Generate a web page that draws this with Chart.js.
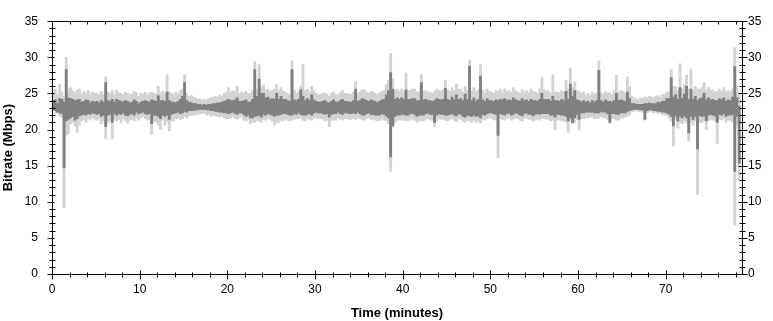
<!DOCTYPE html>
<html>
<head>
<meta charset="utf-8">
<script src="https://cdn.jsdelivr.net/npm/chart.js@4.4.1/dist/chart.umd.min.js"></script>
<style>
  html, body { margin: 0; padding: 0; background: #fff; }
</style>
</head>
<body>
<canvas id="bitrate" width="773" height="321"></canvas>
<script>
// each bin covers a quarter of a minute
const STEP = 0.25

// light trace (instantaneous bitrate), min / max per bin, Mbps
const lightHigh = [
  25.0,25.6,24.8,26.3,25.2,24.6,30.0,25.6,25.8,25.4,25.2,25.5,25.6,24.9,25.3,25.0,25.4,24.8,25.2,25.0,
  25.1,24.8,25.3,24.9,27.3,25.2,25.0,25.4,24.8,25.4,25.1,25.0,24.8,25.2,25.0,24.8,24.9,25.3,25.1,24.6,
  25.0,24.9,25.2,24.8,25.1,25.2,25.0,24.9,26.0,25.1,25.3,24.9,27.6,25.2,25.0,24.8,25.2,24.9,25.4,25.6,
  27.6,25.0,24.6,24.7,24.5,24.4,24.2,24.3,24.0,24.2,24.1,24.3,24.4,24.5,24.6,24.5,24.8,24.6,25.0,25.2,
  25.8,25.2,25.4,25.2,26.0,25.0,25.2,25.0,25.3,24.9,25.0,25.4,29.4,25.6,29.0,26.0,26.2,25.5,25.6,25.3,
  25.4,25.6,26.3,25.4,25.8,25.3,25.2,25.0,24.8,29.5,25.4,25.0,25.3,26.0,29.0,25.4,25.6,25.2,26.0,25.4,
  25.0,24.8,24.8,25.0,25.1,24.9,24.6,25.0,25.2,24.8,24.8,25.1,25.4,25.0,25.0,24.9,24.9,25.2,26.6,25.0,
  25.2,25.5,25.5,25.2,25.0,25.3,25.2,25.0,24.8,25.1,25.3,25.4,26.2,26.8,30.5,27.0,25.4,25.6,25.4,25.6,
  25.3,27.8,25.4,25.4,25.6,25.6,25.2,25.2,27.6,25.3,25.4,25.2,25.2,25.0,25.3,25.6,25.4,25.3,25.5,26.8,
  25.5,25.3,25.8,25.4,26.3,25.6,25.6,25.2,26.0,25.5,29.6,25.3,25.8,25.2,25.5,29.0,25.4,25.1,25.6,25.3,
  25.2,25.0,25.4,25.3,25.6,25.2,25.6,25.3,25.4,25.2,25.8,25.4,25.2,25.0,25.5,25.2,25.4,25.1,25.6,25.3,
  25.2,25.0,25.6,27.2,25.5,25.3,25.4,25.0,27.6,25.2,25.2,25.1,25.4,25.2,26.8,25.6,28.5,25.8,26.6,25.4,
  25.3,25.0,25.2,24.8,25.0,24.7,25.2,24.9,25.0,29.5,25.1,24.9,25.3,25.0,25.1,24.8,25.4,27.5,25.2,25.4,
  25.3,25.0,27.3,26.0,24.6,24.4,24.3,24.2,24.4,24.3,24.5,24.4,24.6,24.5,24.4,24.6,24.7,24.5,24.8,24.9,
  25.2,25.2,28.3,26.0,26.0,25.4,29.1,25.6,26.2,27.5,25.6,28.4,25.4,26.0,25.6,25.6,25.8,26.5,25.4,25.8,
  25.4,25.5,25.2,25.3,25.6,25.3,25.8,25.2,25.4,25.2,25.6,31.3,26.0,25.0
]
const lightLow = [
  22.6,22.2,22.4,21.9,21.6,9.2,19.2,19.4,20.8,21.0,20.5,19.6,20.6,21.2,21.4,21.0,21.5,21.3,21.6,21.4,
  21.3,21.5,20.8,21.2,18.7,21.0,21.2,18.7,21.4,21.2,21.4,21.0,21.5,21.2,20.9,21.3,21.4,21.2,21.6,21.3,
  21.6,21.8,21.5,21.3,21.4,19.3,21.2,21.0,20.6,20.0,21.3,20.6,21.1,19.8,21.2,21.2,21.5,21.6,21.4,21.5,
  21.8,21.6,21.9,22.0,22.0,22.1,22.1,22.2,22.2,22.3,22.0,22.1,21.8,22.0,21.9,21.8,21.7,21.8,21.6,21.5,
  21.5,21.6,21.8,21.5,21.4,21.6,21.8,21.3,21.2,21.4,20.8,21.0,21.0,21.2,21.2,21.0,21.4,21.3,21.5,21.4,
  21.2,20.6,21.0,21.0,21.3,21.2,21.4,21.3,21.2,21.4,21.4,21.5,21.5,21.6,21.3,21.2,21.5,21.4,21.3,21.6,
  21.6,21.5,21.5,21.4,21.2,21.3,20.4,21.2,21.4,21.3,21.6,21.4,21.3,21.5,21.5,21.4,21.4,21.5,21.4,21.6,
  21.5,21.3,21.3,21.5,21.6,21.4,21.4,21.3,21.2,21.2,21.4,21.3,21.2,20.8,14.2,20.3,21.0,21.2,21.4,21.3,
  21.3,21.2,21.2,21.4,21.4,21.3,21.0,21.2,21.2,21.2,21.4,21.5,21.3,21.3,20.4,21.2,21.5,21.4,21.4,21.3,
  21.2,21.4,21.5,21.3,21.1,21.5,21.4,21.2,21.0,21.3,21.2,21.0,21.3,21.0,21.2,20.9,21.4,21.3,21.5,21.6,
  21.6,21.4,21.3,16.1,21.5,21.4,21.3,21.5,21.6,21.3,21.4,21.6,21.5,21.3,21.2,21.5,21.6,21.4,21.4,21.2,
  21.3,21.4,21.3,21.5,21.5,21.4,21.4,21.2,21.3,20.0,21.3,21.3,21.2,21.2,21.0,19.6,21.2,20.8,21.0,21.4,
  19.9,21.5,21.5,21.6,21.6,21.7,21.7,21.5,21.5,21.6,21.8,21.6,21.6,21.4,20.9,21.5,21.5,21.3,21.3,21.6,
  21.6,21.7,21.8,22.0,22.4,22.5,22.6,22.5,22.5,22.4,21.3,22.3,22.4,22.5,22.3,22.4,22.2,22.3,22.1,22.0,
  22.0,21.6,21.2,17.7,21.4,20.2,21.0,20.8,21.2,20.9,18.4,21.0,20.6,21.2,11.0,21.0,21.0,21.2,20.0,21.2,
  21.4,21.3,21.2,18.1,21.4,21.3,21.5,21.0,21.3,21.2,21.0,6.8,20.6,13.0
]

// dark trace (averaged bitrate), min / max per bin, Mbps
const darkHigh = [
  24.0,24.1,23.6,24.3,24.2,23.8,28.3,24.4,24.3,24.2,24.0,24.1,24.2,23.8,23.9,24.1,24.0,23.7,23.9,23.8,
  23.9,23.7,24.0,23.8,26.5,24.0,23.9,24.2,23.8,24.2,24.0,23.9,23.8,24.0,23.9,23.7,23.8,24.1,23.9,23.6,
  23.8,23.9,24.0,23.9,23.8,24.1,24.0,23.9,24.7,24.0,24.0,23.9,25.2,24.0,23.8,23.8,23.7,23.9,24.2,24.6,
  26.5,24.0,23.8,23.7,23.6,23.6,23.5,23.5,23.4,23.5,23.4,23.5,23.5,23.6,23.6,23.7,23.7,23.8,23.9,24.0,
  24.2,24.0,24.0,24.1,24.4,23.9,23.9,24.0,24.1,23.8,23.8,24.2,28.3,24.6,27.0,25.0,25.0,24.4,24.5,24.2,
  24.3,24.2,25.0,24.2,24.6,24.2,24.2,24.0,23.9,28.3,24.1,24.0,24.2,25.5,24.6,24.0,24.3,24.0,24.8,24.1,
  23.9,23.8,23.8,23.9,24.0,23.8,23.7,23.9,24.1,23.8,23.8,24.0,24.2,23.9,23.9,23.8,23.8,24.0,25.6,23.9,
  24.0,24.3,24.2,24.0,23.9,24.1,24.0,23.9,23.7,23.9,24.1,24.2,24.8,25.4,27.9,25.6,24.2,24.4,24.2,24.4,
  24.2,25.5,24.2,24.2,24.3,24.3,24.0,24.0,26.5,24.1,24.2,24.0,24.0,23.9,24.0,24.3,24.2,24.1,24.2,25.7,
  24.2,24.0,24.5,24.1,24.8,24.2,24.3,24.0,24.9,24.2,28.8,24.0,24.4,23.9,24.2,27.4,24.1,23.9,24.3,24.0,
  24.0,23.9,24.1,24.0,24.2,24.1,24.3,24.0,24.1,24.0,24.4,24.1,24.0,23.9,24.3,24.0,24.1,23.9,24.2,24.0,
  24.0,23.9,24.2,25.0,24.2,24.1,24.2,23.9,24.6,24.0,24.0,23.9,24.2,24.0,25.3,24.2,26.3,24.6,25.4,24.1,
  24.0,23.8,24.0,23.8,23.9,23.7,24.0,23.8,24.0,28.2,24.0,23.8,24.1,23.9,23.9,23.8,24.0,25.0,24.0,24.1,
  24.0,23.9,25.2,24.3,23.6,23.6,23.5,23.5,23.5,23.5,23.6,23.6,23.7,23.6,23.6,23.6,23.8,23.7,23.9,23.9,
  24.3,24.3,27.2,24.5,24.8,24.2,25.8,24.3,24.9,26.0,24.2,25.6,24.2,24.6,24.0,24.3,24.4,25.0,24.1,24.4,
  24.1,24.2,24.0,24.0,24.3,24.1,24.4,23.9,24.1,24.0,24.5,28.7,24.4,23.2
]
const darkLow = [
  22.8,22.6,22.4,22.3,22.2,14.7,21.2,21.4,21.6,21.8,21.3,21.5,21.9,22.0,22.1,22.0,22.2,22.1,22.3,22.2,
  22.1,22.2,21.8,22.0,20.4,22.0,22.1,21.0,22.2,22.0,22.2,22.1,22.3,22.0,21.9,22.1,22.2,22.0,22.4,22.2,
  22.3,22.4,22.2,22.1,22.2,20.8,22.0,22.0,21.8,21.5,22.0,21.8,22.0,21.4,22.1,22.2,22.3,22.4,22.2,22.3,
  22.5,22.4,22.6,22.6,22.6,22.7,22.7,22.8,22.8,22.8,22.7,22.7,22.6,22.6,22.5,22.5,22.4,22.4,22.3,22.3,
  22.2,22.3,22.4,22.2,22.1,22.3,22.3,22.1,21.8,22.0,21.6,21.6,21.8,21.9,22.0,21.7,22.1,22.0,22.2,22.1,
  22.0,21.8,22.0,22.0,22.1,22.2,22.2,22.1,22.0,22.0,22.2,22.1,22.3,22.1,22.0,22.0,22.1,22.2,22.0,22.3,
  22.4,22.3,22.3,22.2,22.1,22.2,21.7,22.1,22.2,22.2,22.4,22.2,22.1,22.3,22.3,22.2,22.2,22.3,22.2,22.4,
  22.2,22.0,22.0,22.2,22.3,22.1,22.1,22.0,22.0,22.0,22.2,22.1,21.9,21.6,16.2,20.5,21.8,22.0,22.0,22.1,
  22.1,22.0,22.0,22.2,22.2,22.1,21.8,22.0,22.0,22.0,22.2,22.3,22.1,22.1,21.0,22.0,22.2,22.1,22.1,22.0,
  22.0,22.1,22.2,22.0,21.9,22.2,22.1,21.8,21.7,22.0,21.9,21.8,22.0,21.8,21.9,21.6,22.1,22.0,22.2,22.3,
  22.3,22.2,22.1,19.2,22.2,22.1,22.0,22.2,22.3,22.0,22.1,22.3,22.2,22.0,21.9,22.2,22.3,22.1,22.1,21.9,
  22.1,22.2,22.1,22.2,22.2,22.2,22.2,22.0,22.0,21.7,22.1,22.1,22.0,22.0,21.8,21.2,21.6,21.0,21.6,22.1,
  21.4,22.3,22.3,22.4,22.4,22.4,22.4,22.3,22.3,22.3,22.5,22.4,22.4,22.2,21.0,22.2,22.2,22.1,22.1,22.3,
  22.3,22.3,22.5,22.6,22.7,22.8,22.8,22.8,22.7,22.7,21.4,22.6,22.7,22.7,22.6,22.6,22.5,22.5,22.4,22.4,
  22.3,22.1,21.8,20.5,21.9,21.2,21.8,21.6,21.9,21.6,19.5,21.8,21.4,21.8,17.3,21.9,21.8,21.9,21.2,22.0,
  22.1,22.0,21.9,21.0,22.1,22.0,22.2,21.8,22.0,22.0,22.1,14.2,21.8,15.3
]

const X_MAX = 78.7
const Y_MAX = 35

// floating bars: one [low, high] range per bin, centred in the bin
const toBins = (low, high) => low.map((v, i) => ({ x: i * STEP + STEP / 2, y: [v, high[i]] }))

Chart.defaults.font.family = '"Liberation Sans", Arial, sans-serif'
Chart.defaults.font.size = 12
Chart.defaults.color = '#000'

// frame + minor/major tick marks on all four sides
const frame = {
  id: 'frame',
  afterDraw(chart) {
    const { ctx, chartArea: a, scales } = chart
    const L = Math.round(a.left) + 0.5
    const R = Math.round(a.right) + 0.5
    const T = Math.round(a.top) + 0.5
    const B = Math.round(a.bottom) + 0.5
    ctx.save()
    ctx.strokeStyle = '#000'
    ctx.lineWidth = 1
    ctx.beginPath()
    ctx.rect(L, T, R - L, B - T)
    for (let m = 0; m <= 78; m += 2) {
      const px = Math.round(scales.x.getPixelForValue(m)) + 0.5
      const major = m % 10 === 0
      ctx.moveTo(px, B - (major ? 4 : 2))
      ctx.lineTo(px, B + (major ? 5 : 3))
      ctx.moveTo(px, T)
      ctx.lineTo(px, T + (major ? 5 : 3))
    }
    for (let v = 0; v <= Y_MAX; v++) {
      const py = Math.round(scales.y.getPixelForValue(v)) + 0.5
      const major = v % 5 === 0
      ctx.moveTo(L - (major ? 5 : 3), py)
      ctx.lineTo(L + (major ? 2 : 3), py)
      ctx.moveTo(R - (major ? 4 : 3), py)
      ctx.lineTo(R + (major ? 5 : 3), py)
    }
    ctx.stroke()
    ctx.restore()
  },
}

const plainAxis = {
  grid: { display: false, drawTicks: false, offset: false },
  border: { display: false },
}

new Chart(document.getElementById('bitrate'), {
  type: 'bar',
  data: {
    datasets: [
      {
        label: 'Average',
        data: toBins(darkLow, darkHigh),
        backgroundColor: '#808080',
        order: 0,
      },
      {
        label: 'Bitrate',
        data: toBins(lightLow, lightHigh),
        backgroundColor: '#d3d3d3',
        order: 1,
      },
    ],
  },
  options: {
    responsive: false,
    animation: false,
    layout: { padding: { top: 13, left: 0, right: 0, bottom: 0 } },
    plugins: {
      legend: { display: false },
      tooltip: { enabled: false },
    },
    datasets: {
      bar: {
        grouped: false,
        borderWidth: 0,
        barThickness: 2.2,
      },
    },
    scales: {
      x: {
        ...plainAxis,
        type: 'linear',
        position: 'bottom',
        offset: false,
        min: 0,
        max: X_MAX,
        afterFit: s => { s.height = 47 },
        ticks: { stepSize: 10, includeBounds: false, padding: 8, maxRotation: 0, autoSkip: false },
        title: {
          display: true,
          text: 'Time (minutes)',
          font: { size: 13, weight: 'bold' },
          padding: { top: 0, bottom: 0 },
        },
      },
      y: {
        ...plainAxis,
        position: 'left',
        min: 0,
        max: Y_MAX,
        afterFit: s => { s.width = 52 },
        ticks: { stepSize: 5, padding: 14 },
        title: {
          display: true,
          text: 'Bitrate (Mbps)',
          font: { size: 13, weight: 'bold' },
          padding: { top: 1, bottom: 0 },
        },
      },
      y2: {
        ...plainAxis,
        position: 'right',
        min: 0,
        max: Y_MAX,
        afterFit: s => { s.width = 31 },
        ticks: { stepSize: 5, padding: 6 },
      },
    },
  },
  plugins: [frame],
})
</script>
</body>
</html>
